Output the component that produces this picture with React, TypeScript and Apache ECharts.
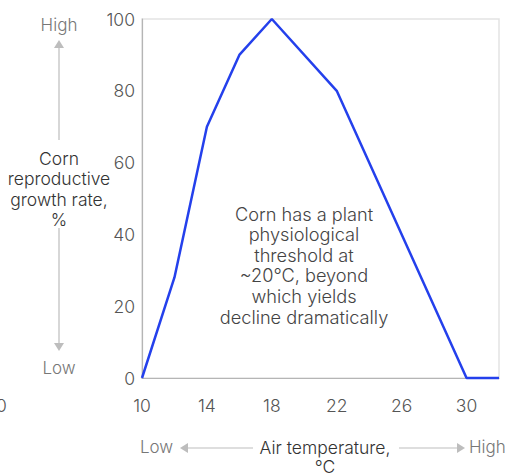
import React, { useEffect, useRef } from "react";
import * as echarts from "echarts";

const temperatures = [10, 12, 14, 16, 18, 22, 30, 32];
const growthRates = [0, 28, 70, 90, 100, 80, 0, 0];
const xTickLabels = [10, 14, 18, 22, 26, 30];
const yTickLabels = [0, 20, 40, 60, 80, 100];
const annotationLines = [
  "Corn has a plant",
  "physiological",
  "threshold at",
  "~20°C, beyond",
  "which yields",
  "decline dramatically",
];

const FONT = "Inter, 'Liberation Sans', Arial, sans-serif";
const ARROW = "#bdbdbd";

export default function App() {
  const ref = useRef<HTMLDivElement>(null);
  useEffect(() => {
    document.body.style.margin = "0";
    const chart = echarts.init(ref.current!, null, { renderer: "svg" });
    const arrowHead = (x: number, y: number, dir: "up" | "down" | "left" | "right") => {
      const s = 5;
      const l = 8;
      let pts: number[][] = [];
      if (dir === "up") pts = [[x, y], [x - s, y + l], [x + s, y + l]];
      if (dir === "down") pts = [[x, y], [x - s, y - l], [x + s, y - l]];
      if (dir === "left") pts = [[x, y], [x + l, y - s], [x + l, y + s]];
      if (dir === "right") pts = [[x, y], [x - l, y - s], [x - l, y + s]];
      return { type: "polygon", shape: { points: pts }, style: { fill: ARROW }, silent: true };
    };
    const line = (x1: number, y1: number, x2: number, y2: number) => ({
      type: "line",
      shape: { x1, y1, x2, y2 },
      style: { stroke: ARROW, lineWidth: 1.2 },
      silent: true,
    });
    const txt = (x: number, y: number, text: string, color: string, align = "center", size = 17, lh = 20) => ({
      type: "text",
      x,
      y,
      style: {
        text,
        fill: color,
        font: `300 ${size}px ${FONT}`,
        align,
        verticalAlign: "middle",
        lineHeight: lh,
      },
      silent: true,
    });

    chart.setOption({
      animation: false,
      grid: {
        left: 142,
        right: 8,
        top: 19,
        bottom: 98,
        show: true,
        borderColor: "#e3e3e3",
        borderWidth: 1.5,
      },
      xAxis: {
        type: "value",
        min: 10,
        max: 32,
        axisLine: { show: true, onZero: false, lineStyle: { color: "#b5b5b5", width: 1.2 } },
        axisTick: { show: false },
        splitLine: { show: false },
        axisLabel: {
          customValues: xTickLabels,
          color: "#555",
          fontSize: 17.5,
          fontWeight: 300,
          fontFamily: FONT,
          margin: 18,
        },
      },
      yAxis: {
        type: "value",
        min: 0,
        max: 100,
        interval: 20,
        axisLine: { show: true, onZero: false, lineStyle: { color: "#b5b5b5", width: 1.2 } },
        axisTick: { show: false },
        splitLine: { show: false },
        axisLabel: {
          customValues: yTickLabels,
          color: "#555",
          fontSize: 17.5,
          fontWeight: 300,
          fontFamily: FONT,
          margin: 7,
        },
      },
      series: [
        {
          type: "line",
          data: temperatures.map((t, i) => [t, growthRates[i]]),
          symbol: "none",
          lineStyle: { color: "#2440ec", width: 2.5 },
          clip: false,
        },
      ],
      graphic: [
        txt(304, 265, annotationLines.join("\n"), "#444", "center", 18.2, 20.6),
        // left vertical annotation
        txt(59, 25, "High", "#777"),
        arrowHead(59, 40, "up"),
        line(59, 47, 59, 140),
        txt(59, 189, "Corn\nreproductive\ngrowth rate,\n%", "#333", "center", 17.5, 20.5),
        line(59, 228, 59, 344),
        arrowHead(59, 351, "down"),
        txt(59, 368, "Low", "#777"),
        // bottom annotation
        txt(140, 447, "Low", "#777", "left"),
        arrowHead(180, 448, "left"),
        line(187, 448, 253, 448),
        txt(325, 457, "Air temperature,\n°C", "#333", "center", 17.5, 19),
        line(399, 448, 458, 448),
        arrowHead(465, 448, "right"),
        txt(469, 447, "High", "#777", "left"),
        // clipped label at left edge (partially off-canvas in the reference)
        txt(-4, 405, "0", "#555", "left", 17.5),
      ],
    });
    return () => chart.dispose();
  }, []);
  return <div ref={ref} style={{ width: 507, height: 476 }} />;
}
